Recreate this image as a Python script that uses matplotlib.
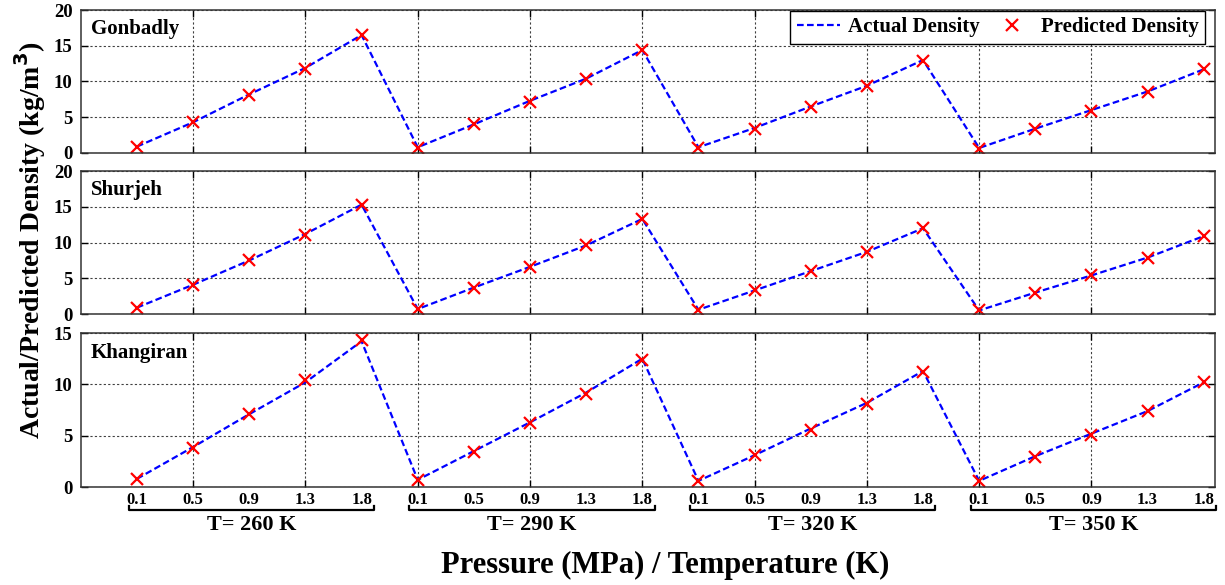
import numpy as np
import matplotlib.pyplot as plt
from matplotlib.lines import Line2D

# pressure (MPa) within each temperature block, and temperatures (K)
pressures = ['0.1', '0.5', '0.9', '1.3', '1.8']
temperatures = [260, 290, 320, 350]
fields = ['Gonbadly', 'Shurjeh', 'Khangiran']

# density (kg/m3), 5 pressures x 4 temperatures
gonbadly_actual = [0.9, 4.3, 8.2, 11.9, 16.5,
                   0.8, 4.0, 7.3, 10.4, 14.4,
                   0.8, 3.5, 6.5, 9.4, 13.0,
                   0.7, 3.4, 6.0, 8.6, 11.7]
gonbadly_pred = [0.9, 4.4, 8.1, 11.8, 16.5,
                 0.7, 4.0, 7.2, 10.4, 14.4,
                 0.7, 3.4, 6.5, 9.3, 12.9,
                 0.6, 3.3, 5.9, 8.5, 11.7]
shurjeh_actual = [0.9, 4.1, 7.5, 11.2, 15.3,
                  0.7, 3.7, 6.6, 9.6, 13.3,
                  0.6, 3.3, 6.0, 8.7, 12.0,
                  0.5, 3.0, 5.4, 7.9, 10.9]
shurjeh_pred = [0.8, 4.0, 7.6, 11.1, 15.3,
                0.7, 3.7, 6.6, 9.6, 13.3,
                0.6, 3.3, 6.0, 8.7, 12.0,
                0.5, 3.0, 5.4, 7.9, 10.9]
khangiran_actual = [0.8, 3.9, 7.1, 10.2, 14.2,
                    0.7, 3.5, 6.3, 9.2, 12.5,
                    0.6, 3.1, 5.7, 8.2, 11.3,
                    0.6, 3.0, 5.2, 7.4, 10.2]
khangiran_pred = [0.8, 3.8, 7.1, 10.4, 14.3,
                  0.7, 3.4, 6.2, 9.1, 12.4,
                  0.6, 3.1, 5.6, 8.1, 11.2,
                  0.6, 2.9, 5.1, 7.4, 10.2]

actual = [gonbadly_actual, shurjeh_actual, khangiran_actual]
predicted = [gonbadly_pred, shurjeh_pred, khangiran_pred]
ymax = [20, 20, 15]

plt.rcParams['font.family'] = ['Liberation Serif', 'DejaVu Serif']
plt.rcParams['font.weight'] = 'bold'

fig = plt.figure(figsize=(12.25, 5.85), dpi=100)
boxes = [[0.066, 0.7385, 0.9258, 0.2444],
         [0.066, 0.4632, 0.9258, 0.2444],
         [0.066, 0.1675, 0.9258, 0.2632]]

x = np.arange(1, len(gonbadly_actual) + 1)
axes = []
for k in range(3):
    ax = fig.add_axes(boxes[k])
    ax.plot(x, actual[k], color='blue', ls='--', lw=1.6, dashes=(3, 1.5))
    ax.plot(x, predicted[k], ls='none', marker='x', color='red', ms=9, mew=1.6)
    ax.set_xlim(0, 20.2)
    ax.set_ylim(0, ymax[k])
    ax.set_yticks(np.arange(0, ymax[k] + 1, 5))
    ax.set_xticks(np.arange(2, 20, 2))
    ax.set_xticklabels([])
    ax.grid(True, color='0.25', ls=(0, (2, 2)), lw=0.8)
    ax.tick_params(direction='in', top=True, right=True, length=5, width=1,
                   labelsize=13.5, pad=6)
    for lab in ax.get_yticklabels():
        lab.set_fontweight('bold')
    for s in ax.spines.values():
        s.set_color('0.2')
        s.set_linewidth(1.1)
    ax.text(0.009, 0.87, fields[k], transform=ax.transAxes, fontsize=15,
            fontweight='bold', va='center', ha='left')
    axes.append(ax)

# legend on top panel
handles = [Line2D([], [], color='blue', ls='--', lw=1.6, dashes=(3, 1.5)),
           Line2D([], [], color='red', ls='none', marker='x', ms=9, mew=1.6)]
fig.legend(handles, ['Actual Density', 'Predicted Density'], loc='upper right',
           bbox_to_anchor=(1205 / 1225, 1 - 11 / 585), ncol=2, fancybox=False,
           edgecolor='black', framealpha=1, borderaxespad=0, handlelength=2.1,
           handletextpad=0.35, columnspacing=0.5, borderpad=0.3,
           prop={'family': 'Liberation Serif', 'weight': 'bold', 'size': 15})

# pressure labels and temperature brackets under the bottom panel
ax = axes[-1]
trans = ax.get_xaxis_transform()
for g, T in enumerate(temperatures):
    xs = x[g * 5:(g + 1) * 5]
    for xi, p in zip(xs, pressures):
        ax.text(xi, -0.085, p, transform=trans, ha='center', va='center',
                fontsize=12, fontweight='bold')
    x0, x1 = xs[0] - 0.15, xs[-1] + 0.22
    ax.plot([x0, x0, x1, x1], [-0.125, -0.15, -0.15, -0.125], transform=trans,
            color='black', lw=1.6, clip_on=False)
    ax.text((x0 + x1) / 2, -0.245, 'T= %d K' % T, transform=trans,
            ha='center', va='center', fontsize=16, fontweight='bold')

fig.text(665 / 1225, 1 - 565 / 585, 'Pressure (MPa) / Temperature (K)',
         ha='center', va='center', fontsize=22, fontweight='bold')
fig.text(30 / 1225, 1 - 240 / 585, 'Actual/Predicted Density (kg/m$^\\mathbf{3}$)',
         ha='center', va='center', rotation=90, fontsize=20, fontweight='bold')

fig.savefig('out.png', dpi=100)
